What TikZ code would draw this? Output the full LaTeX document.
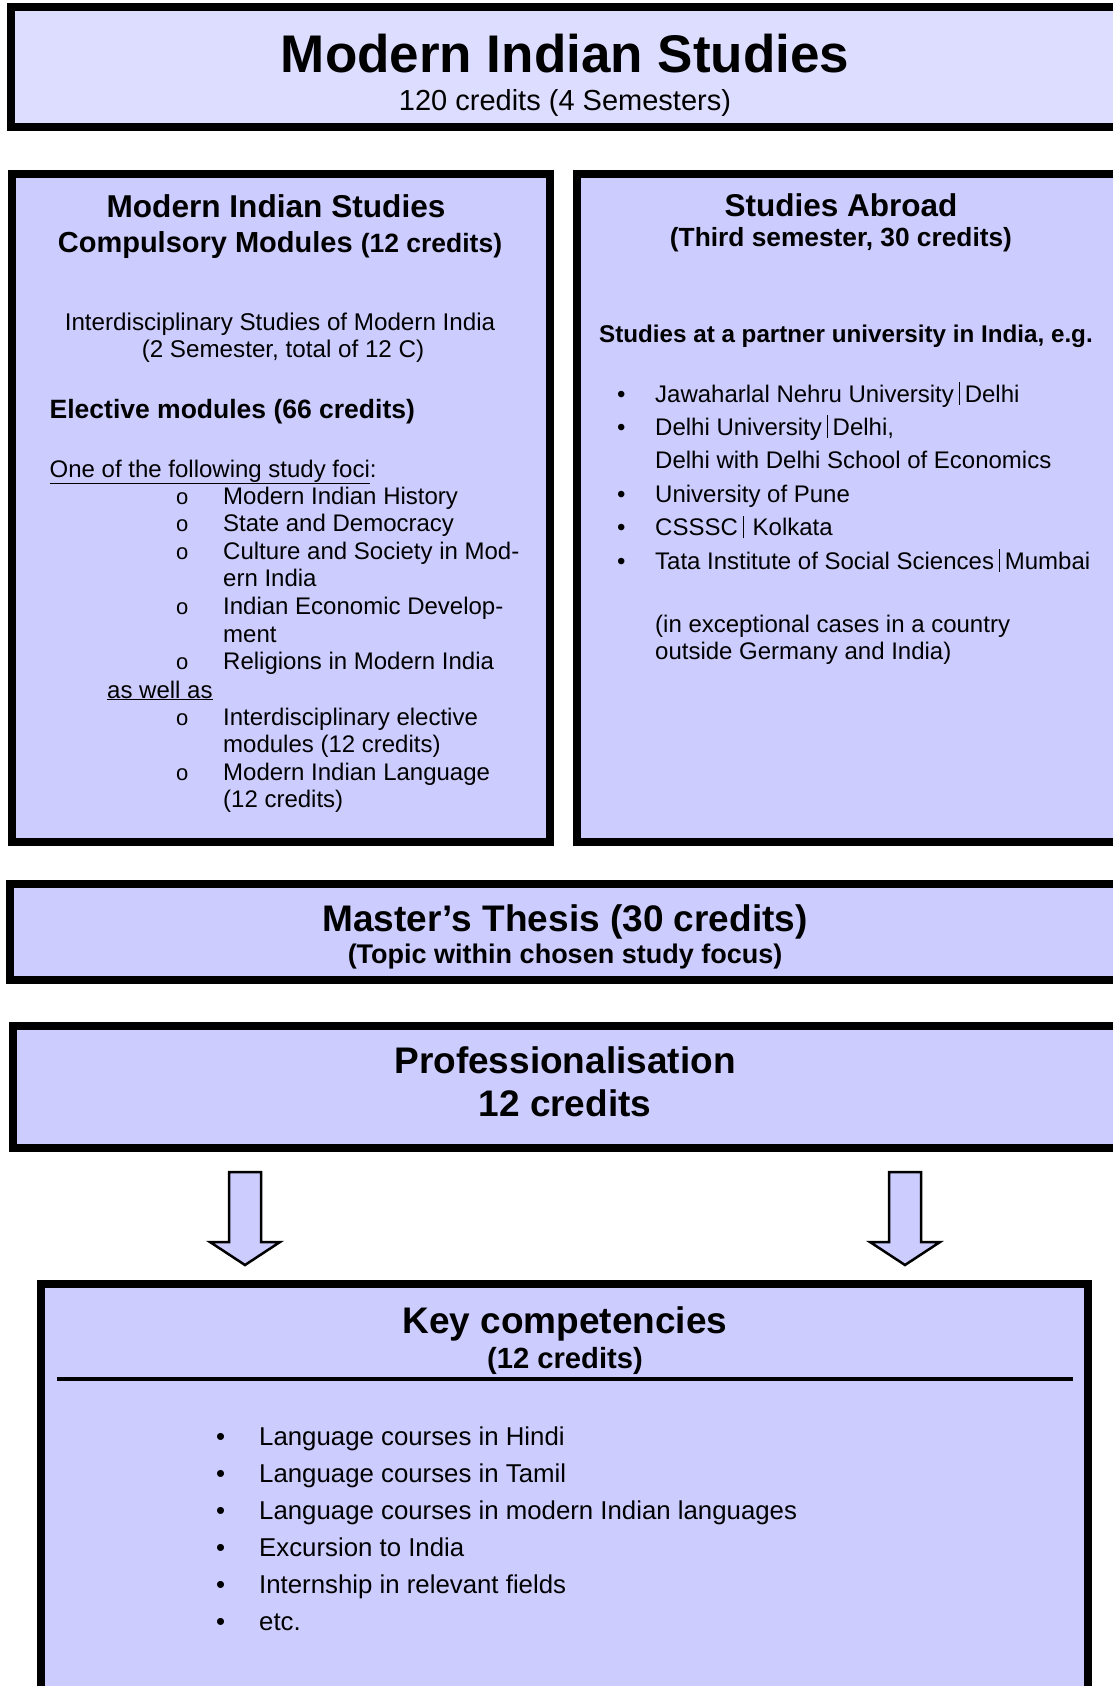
\documentclass[tikz,border=0pt]{standalone}
\usepackage{fontspec}
\setmainfont{Liberation Sans}
\usetikzlibrary{positioning}

\definecolor{lavender}{RGB}{204,204,255}
\definecolor{palelavender}{RGB}{221,221,255}

\newcommand{\fsz}[2]{\fontsize{#1}{#2}\selectfont}
\newcommand{\vsep}{\hspace{5pt}\rule[-0.12em]{0.8pt}{0.95em}\hspace{5pt}}
\newcommand{\circbul}{{\fsz{22}{22}o}}

\tikzstyle{panel} = [rectangle, draw=black, line width=7.5pt, fill=lavender, inner sep=0pt]
\tikzstyle{heading} = [anchor=base, inner sep=0pt, font=\bfseries]
\tikzstyle{plain} = [anchor=base, inner sep=0pt]
\tikzstyle{lefttext} = [anchor=base west, inner sep=0pt]
\tikzstyle{blockarrow} = [draw=black, line width=2.5pt, fill=lavender, line join=miter]

\begin{document}
\begin{tikzpicture}[x=1pt, y=-1pt]
\useasboundingbox (0,0) rectangle (1113,1686);
\clip (0,0) rectangle (1113,1686);

% frames
\node (top) [panel, fill=palelavender, minimum width=1108pt, minimum height=120pt] at (565,67) {};
\node (compulsory) [panel, minimum width=538pt, minimum height=668pt] at (281,508) {};
\node (abroad) [panel, minimum width=553pt, minimum height=668pt] at (853.5,508) {};
\node (thesis) [panel, minimum width=1110pt, minimum height=96pt] at (565,932) {};
\node (prof) [panel, minimum width=1104pt, minimum height=122pt] at (565,1087) {};
\node (key) [panel, minimum width=1047pt, minimum height=436pt] at (564.5,1502) {};

% programme title
\node (title) [heading, font=\fsz{53}{60}\bfseries] at (565,72) {Modern Indian Studies};
\node (total) [plain, font=\fsz{29}{33}] at (565,110) {120 credits (4 Semesters)};

% left column
\node (mis) [heading, font=\fsz{31.6}{36}\bfseries] at (276,217) {Modern Indian Studies};
\node (compmod) [heading, font=\fsz{29}{33}\bfseries] at (280,252) {Compulsory Modules {\fsz{26.5}{30}(12 credits)}};
\node (isomi) [plain, font=\fsz{24.2}{28}] at (280,330) {Interdisciplinary Studies of Modern India};
\node (isomic) [plain, font=\fsz{24.2}{28}] at (283,357) {(2 Semester, total of 12 C)};
\node (elective) [lefttext, font=\fsz{26.5}{30}\bfseries] at (49.5,418) {Elective modules (66 credits)};
\node (oneof) [lefttext, font=\fsz{24}{28}] at (49.5,477) {\underline{One of the following study foci}:};
\node (foci) [lefttext, font=\fsz{24}{27.6}] at (176,504) {\begin{tabular}[t]{@{}p{47pt}@{}l@{}}
\circbul & Modern Indian History\\
\circbul & State and Democracy\\
\circbul & Culture and Society in Mod-\\
 & ern India\\
\circbul & Indian Economic Develop-\\
 & ment\\
\circbul & Religions in Modern India
\end{tabular}};
\node (aswell) [lefttext, font=\fsz{24}{28}] at (107,698) {\underline{as well as}};
\node (extra) [lefttext, font=\fsz{24}{27.6}] at (176,725) {\begin{tabular}[t]{@{}p{47pt}@{}l@{}}
\circbul & Interdisciplinary elective\\
 & modules (12 credits)\\
\circbul & Modern Indian Language\\
 & (12 credits)
\end{tabular}};

% right column
\node (sa) [heading, font=\fsz{31.5}{36}\bfseries] at (841,216) {Studies Abroad};
\node (third) [heading, font=\fsz{26.3}{30}\bfseries] at (841,246) {(Third semester, 30 credits)};
\node (partner) [lefttext, font=\fsz{24.2}{28}\bfseries] at (599,342) {Studies at a partner university in India, e.g.};
\node (unis) [lefttext, font=\fsz{24}{33.4}] at (617,402) {\begin{tabular}[t]{@{}p{38pt}@{}l@{}}
\textbullet & Jawaharlal Nehru University\vsep Delhi\\
\textbullet & Delhi University\vsep Delhi,\\
 & Delhi with Delhi School of Economics\\
\textbullet & University of Pune\\
\textbullet & CSSSC\vsep\hspace{4pt}Kolkata\\
\textbullet & Tata Institute of Social Sciences\vsep Mumbai
\end{tabular}};
\node (except) [lefttext, font=\fsz{24}{28}] at (655,632) {(in exceptional cases in a country};
\node (outside) [lefttext, font=\fsz{24}{28}] at (655,659) {outside Germany and India)};

% thesis and professionalisation
\node (ma) [heading, font=\fsz{37}{42}\bfseries] at (565,931) {Master’s Thesis (30 credits)};
\node (topic) [heading, font=\fsz{27}{31}\bfseries] at (565,963) {(Topic within chosen study focus)};
\node (pro) [heading, font=\fsz{37}{42}\bfseries] at (565,1073) {Professionalisation};
\node (procr) [heading, font=\fsz{37}{42}\bfseries] at (565,1116) {12 credits};

\foreach \ax in {245,905}
  \draw [blockarrow] (\ax-16,1172) -- (\ax+16,1172) -- (\ax+16,1242) -- (\ax+35,1242)
    -- (\ax,1265) -- (\ax-35,1242) -- (\ax-16,1242) -- cycle;

% key competencies
\node (kc) [heading, font=\fsz{37}{42}\bfseries] at (565,1333) {Key competencies};
\node (kccr) [heading, font=\fsz{29.2}{33}\bfseries] at (565,1368) {(12 credits)};
\draw [line width=3.5pt] (57,1379) -- (1073,1379);
\node (courses) [lefttext, font=\fsz{25.8}{37}] at (216,1445) {\begin{tabular}[t]{@{}p{43pt}@{}l@{}}
\textbullet & Language courses in Hindi\\
\textbullet & Language courses in Tamil\\
\textbullet & Language courses in modern Indian languages\\
\textbullet & Excursion to India\\
\textbullet & Internship in relevant fields\\
\textbullet & etc.
\end{tabular}};

\end{tikzpicture}
\end{document}
